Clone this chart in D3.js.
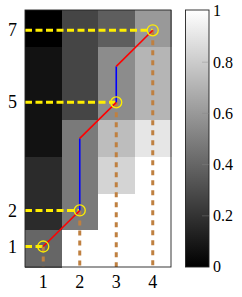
<!DOCTYPE html>
<html>
<head>
<meta charset="utf-8">
<script src="https://cdn.jsdelivr.net/npm/d3@7"></script>
<style>
  body { margin: 0; background: #fff; }
</style>
</head>
<body>
<div id="chart"></div>
<script>
var width = 242, height = 297;
var serif = "Liberation Serif";

// cost matrix, rows listed from y = 7 (top) down to y = 1
var rowLabels = [7, 6, 5, 4, 3, 2, 1];
var colLabels = [1, 2, 3, 4];
var costRows = [
  [0.00, 0.27, 0.37, 0.60],
  [0.07, 0.27, 0.55, 0.71],
  [0.07, 0.27, 0.55, 0.71],
  [0.07, 0.48, 0.74, 0.90],
  [0.17, 0.48, 0.83, 1.00],
  [0.17, 0.48, 1.00, 1.00],
  [0.40, 1.00, 1.00, 1.00]
];

// warping path and matched points
var pathPoints = [[1, 1], [2, 2], [2, 4], [3, 5], [3, 6], [4, 7]];
var matchPoints = [[1, 1], [2, 2], [3, 5], [4, 7]];

var xTicks = [1, 2, 3, 4];
var yTicks = [1, 2, 5, 7];
var cbTicks = [0, 0.2, 0.4, 0.6, 0.8, 1];

var plot = { left: 25, right: 171, top: 10, bottom: 267 };

var svg = d3.select("#chart").append("svg")
  .attr("width", width)
  .attr("height", height);

var x = d3.scaleLinear().domain([0.5, 4.5]).range([plot.left, plot.right]);
var y = d3.scaleLinear().domain([1, 7]).range([246.5, 30.3]);

var colBand = d3.scaleBand().domain(colLabels).range([plot.left, plot.right]);
var rowBand = d3.scaleBand().domain(rowLabels).range([plot.top, plot.bottom]);

var gray = d3.scaleLinear().domain([0, 1]).range(["#000", "#fff"]).clamp(true);

// cells
var cells = [];
costRows.forEach(function(row, i) {
  row.forEach(function(v, j) {
    cells.push({ r: rowLabels[i], c: colLabels[j], v: v });
  });
});

svg.append("g").attr("shape-rendering", "crispEdges")
  .selectAll("rect.cell")
  .data(cells)
  .enter().append("rect")
  .attr("class", "cell")
  .attr("x", d => colBand(d.c))
  .attr("y", d => rowBand(d.r))
  .attr("width", colBand.bandwidth() + 0.6)
  .attr("height", rowBand.bandwidth() + 0.6)
  .attr("fill", d => gray(d.v));

// dashed guide lines
svg.append("g").selectAll("line.hguide")
  .data(matchPoints)
  .enter().append("line")
  .attr("x1", plot.left)
  .attr("x2", d => x(d[0]))
  .attr("y1", d => y(d[1]))
  .attr("y2", d => y(d[1]))
  .attr("stroke", "#ffee00")
  .attr("stroke-width", 3)
  .attr("stroke-dasharray", "7,3.5");

svg.append("g").selectAll("line.vguide")
  .data(matchPoints)
  .enter().append("line")
  .attr("x1", d => x(d[0]))
  .attr("x2", d => x(d[0]))
  .attr("y1", d => y(d[1]))
  .attr("y2", plot.bottom)
  .attr("stroke", "#bf8040")
  .attr("stroke-width", 3)
  .attr("stroke-dasharray", "5,5");

// path segments: diagonal steps red, vertical steps blue
var segs = d3.pairs(pathPoints);
svg.append("g").selectAll("line.seg")
  .data(segs)
  .enter().append("line")
  .attr("x1", d => x(d[0][0]))
  .attr("y1", d => y(d[0][1]))
  .attr("x2", d => x(d[1][0]))
  .attr("y2", d => y(d[1][1]))
  .attr("stroke", d => d[0][0] == d[1][0] ? "#0000ff" : "#ff0000")
  .attr("stroke-width", 1.6);

svg.append("g").selectAll("circle")
  .data(matchPoints)
  .enter().append("circle")
  .attr("cx", d => x(d[0]))
  .attr("cy", d => y(d[1]))
  .attr("r", 5.5)
  .attr("fill", "none")
  .attr("stroke", "#ffee00")
  .attr("stroke-width", 1.3);

// frame
svg.append("rect")
  .attr("x", plot.left)
  .attr("y", plot.top)
  .attr("width", plot.right - plot.left)
  .attr("height", plot.bottom - plot.top)
  .attr("fill", "none")
  .attr("stroke", "#222")
  .attr("stroke-width", 0.9);

// tick labels
svg.append("g").selectAll("text.xt")
  .data(xTicks)
  .enter().append("text")
  .style("font-family", serif)
  .attr("x", d => x(d))
  .attr("y", 288)
  .attr("text-anchor", "middle")
  .attr("font-size", 18)
  .text(d => d);

svg.append("g").selectAll("text.yt")
  .data(yTicks)
  .enter().append("text")
  .style("font-family", serif)
  .attr("x", 17)
  .attr("y", d => y(d))
  .attr("dy", "0.34em")
  .attr("text-anchor", "end")
  .attr("font-size", 18)
  .text(d => d);

// colorbar
var cb = { left: 185.5, right: 209, top: 10, bottom: 267 };
var cbScale = d3.scaleLinear().domain([0, 1]).range([cb.bottom, 11]);

var grad = svg.append("defs").append("linearGradient")
  .attr("id", "cbgrad")
  .attr("x1", 0).attr("y1", 1).attr("x2", 0).attr("y2", 0);
grad.append("stop").attr("offset", "0%").attr("stop-color", gray(0));
grad.append("stop").attr("offset", "100%").attr("stop-color", gray(1));

svg.append("rect")
  .attr("x", cb.left)
  .attr("y", cb.top)
  .attr("width", cb.right - cb.left)
  .attr("height", cb.bottom - cb.top)
  .attr("fill", "url(#cbgrad)")
  .attr("stroke", "#222")
  .attr("stroke-width", 0.9);

svg.append("g").selectAll("line.cbt")
  .data(cbTicks.slice(1, -1))
  .enter().append("line")
  .attr("x1", cb.right - 7)
  .attr("x2", cb.right)
  .attr("y1", d => cbScale(d))
  .attr("y2", d => cbScale(d))
  .attr("stroke", "#888")
  .attr("stroke-opacity", 0.5)
  .attr("stroke-width", 0.8);

svg.append("g").selectAll("text.cbl")
  .data(cbTicks)
  .enter().append("text")
  .style("font-family", serif)
  .attr("x", 213)
  .attr("y", d => cbScale(d))
  .attr("dy", "0.34em")
  .attr("font-size", 16)
  .text(d => d);
</script>
</body>
</html>
